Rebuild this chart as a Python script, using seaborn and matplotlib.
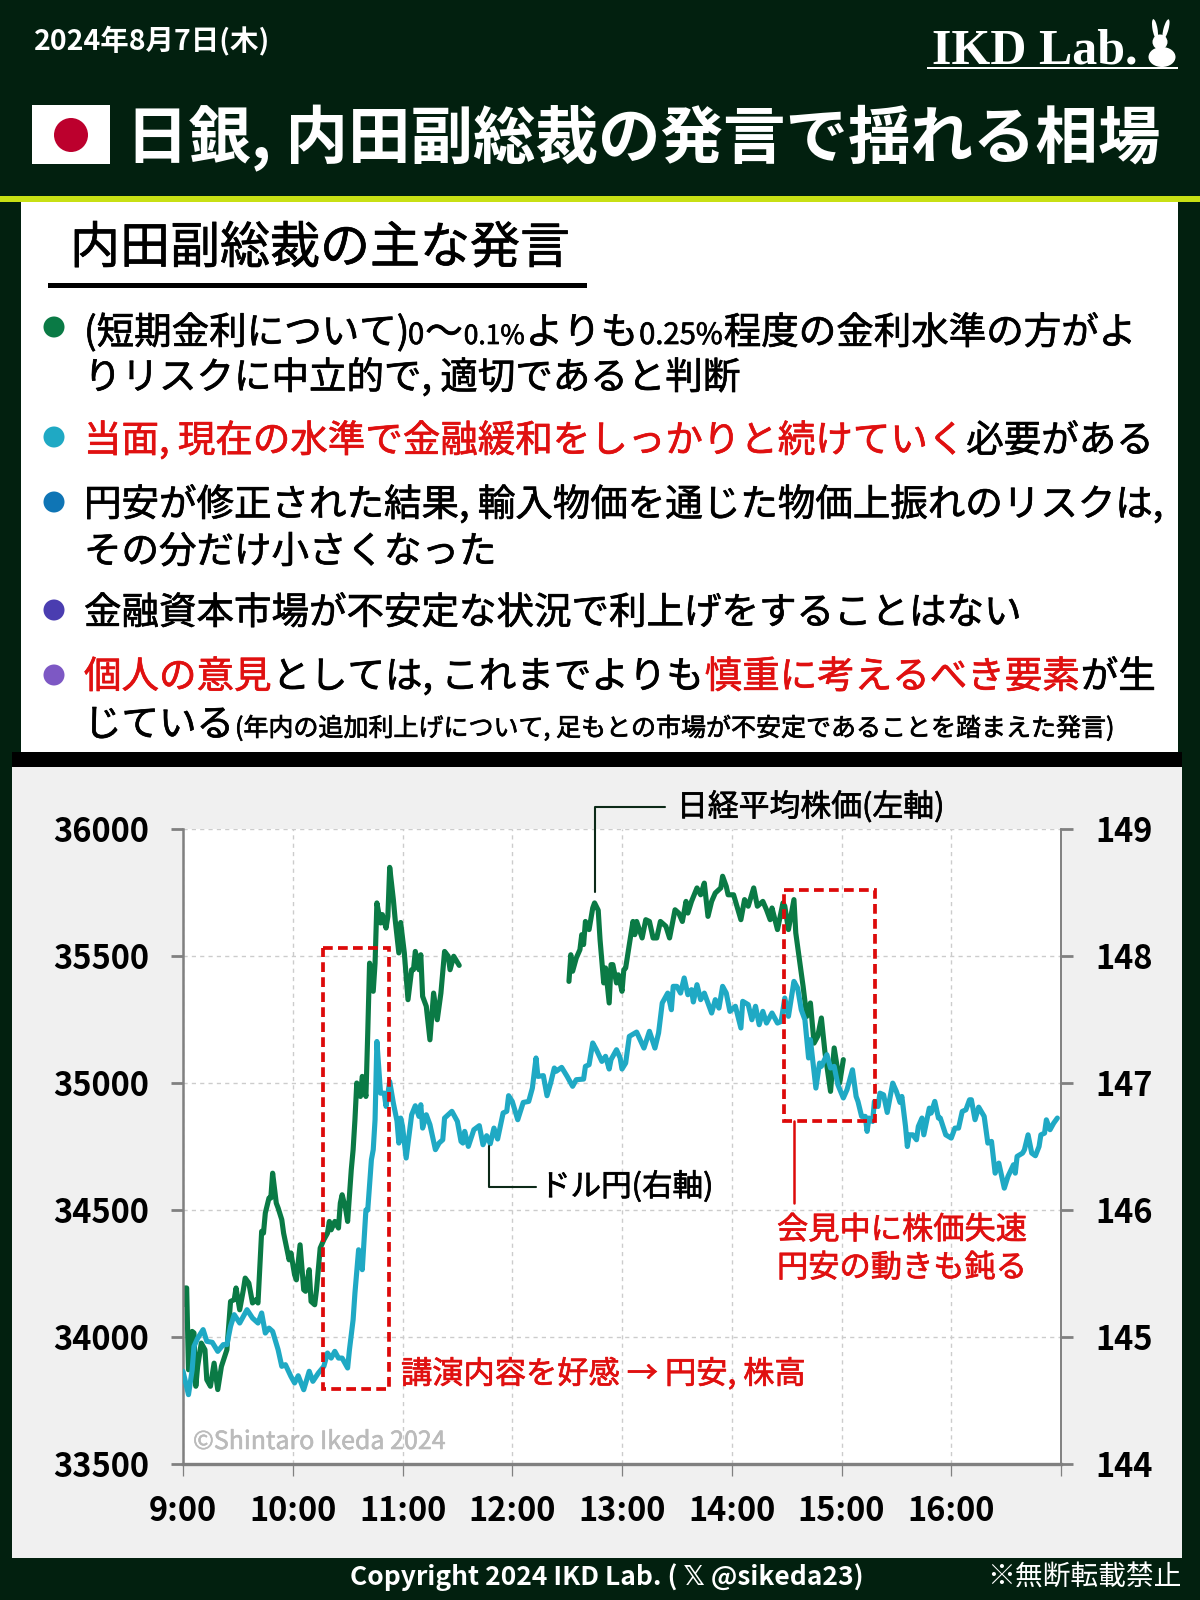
import matplotlib
matplotlib.use("Agg")
import matplotlib.pyplot as plt
import matplotlib.patheffects as pe
from matplotlib.patches import Rectangle, Ellipse, Circle
import seaborn as sns

# DATA (minutes after 9:00)
nikkei_am_min = [0, 1, 2, 3, 5, 6, 7, 8, 10, 12, 13, 15, 17, 19, 21, 24, 26, 28, 29, 31, 33, 34, 36, 38, 40, 41,
                 43, 44, 45, 47, 48, 49, 51, 52, 54, 55, 58, 59, 61, 62, 64, 66, 67, 69, 70, 72, 73, 75, 77, 79,
                 80, 81, 83, 85, 86, 87, 89, 90, 92, 93, 94, 95, 97, 98, 100, 101, 102, 104, 105, 106, 108, 109,
                 111, 112, 113, 115, 116, 118, 119, 121, 123, 125, 126, 127, 129, 130, 131, 133, 135, 137, 139,
                 141, 143, 145, 146, 148, 151]
nikkei_am = [34127, 34193, 34193, 33871, 34022, 34016, 33806, 33884, 33976, 33950, 33832, 33806, 33897, 33793,
             33884, 33950, 34140, 34147, 34193, 34107, 34186, 34232, 34212, 34134, 34147, 34134, 34416, 34409,
             34488, 34547, 34547, 34645, 34527, 34508, 34462, 34409, 34304, 34331, 34245, 34225, 34363, 34186,
             34180, 34265, 34140, 34127, 34186, 34350, 34383, 34409, 34455, 34422, 34455, 34429, 34527, 34560,
             34501, 34455, 34659, 34737, 34855, 35000, 34947, 35026, 34947, 35197, 35472, 35361, 35472, 35709,
             35630, 35663, 35610, 35656, 35849, 35722, 35643, 35512, 35632, 35512, 35328, 35446, 35446, 35518,
             35446, 35505, 35341, 35302, 35170, 35354, 35249, 35354, 35518, 35499, 35446, 35499, 35463]
nikkei_pm_min = [211, 212, 213, 215, 217, 218, 219, 220, 222, 224, 225, 227, 228, 230, 231, 233, 234, 235, 237,
                 238, 240, 241, 242, 244, 246, 247, 248, 251, 253, 255, 257, 259, 261, 264, 266, 269, 271, 273,
                 275, 276, 278, 281, 283, 285, 287, 289, 291, 294, 295, 297, 298, 301, 305, 307, 309, 312, 314,
                 317, 319, 321, 322, 325, 328, 329, 331, 334, 335, 338, 339, 341, 343, 345, 347, 349, 351, 354,
                 356, 359, 361]
nikkei_pm = [35400, 35505, 35440, 35492, 35525, 35584, 35545, 35636, 35604, 35689, 35709, 35680, 35564, 35394,
             35453, 35315, 35466, 35466, 35394, 35426, 35361, 35446, 35453, 35545, 35636, 35584, 35636, 35571,
             35643, 35636, 35571, 35571, 35636, 35617, 35571, 35682, 35669, 35636, 35715, 35669, 35715, 35768,
             35741, 35787, 35656, 35715, 35748, 35768, 35814, 35774, 35741, 35741, 35643, 35722, 35696, 35768,
             35696, 35715, 35682, 35643, 35689, 35604, 35709, 35696, 35604, 35722, 35591, 35433, 35381, 35262,
             35315, 35157, 35184, 35256, 35118, 34967, 35138, 35000, 35092]
usdjpy_min = [0, 3, 5, 6, 8, 11, 13, 16, 19, 22, 24, 26, 28, 31, 33, 35, 38, 41, 43, 45, 47, 49, 52, 54, 56, 59,
              61, 63, 66, 69, 71, 74, 77, 79, 81, 83, 85, 87, 90, 91, 93, 94, 96, 98, 100, 101, 103, 104, 105,
              106, 108, 110, 111, 113, 115, 117, 118, 119, 120, 122, 125, 127, 129, 130, 131, 133, 135, 138,
              140, 142, 143, 147, 150, 152, 153, 154, 156, 159, 162, 164, 166, 168, 170, 172, 175, 177, 178,
              180, 183, 186, 189, 191, 193, 194, 197, 199, 201, 203, 204, 207, 210, 213, 215, 219, 220, 222,
              224, 226, 229, 231, 233, 234, 237, 239, 240, 242, 244, 248, 252, 255, 258, 260, 262, 265, 267,
              268, 270, 272, 274, 276, 278, 279, 281, 283, 285, 289, 291, 293, 295, 297, 299, 302, 305, 306,
              309, 311, 313, 315, 317, 319, 322, 325, 327, 329, 331, 334, 336, 338, 340, 342, 343, 346, 348,
              349, 352, 354, 356, 358, 361, 363, 366, 368, 369, 371, 373, 374, 375, 377, 378, 380, 381, 383,
              385, 388, 390, 392, 393, 395, 396, 397, 399, 401, 402, 404, 405, 408, 409, 411, 413, 414, 417,
              420, 422, 424, 426, 428, 430, 431, 433, 435, 438, 440, 442, 444, 446, 449, 451, 454, 455, 456,
              459, 460, 462, 464, 466, 468, 469, 471, 472, 474, 476, 478]
usdjpy = [144.73, 144.546, 144.74, 144.926, 144.99, 145.058, 144.966, 144.958, 144.887, 144.94, 144.94, 145.084,
          145.176, 145.11, 145.163, 145.215, 145.149, 145.11, 145.189, 145.031, 145.07, 145.044, 144.9, 144.769,
          144.782, 144.69, 144.638, 144.695, 144.585, 144.73, 144.651, 144.716, 144.769, 144.874, 144.834,
          144.887, 144.834, 144.834, 144.756, 144.9, 145.136, 145.346, 145.687, 145.53, 146.0, 146.0, 146.396,
          146.475, 146.711, 147.327, 146.92, 146.92, 146.816, 147.012, 146.842, 146.7, 146.527, 146.724, 146.66,
          146.409, 146.75, 146.821, 146.737, 146.829, 146.645, 146.75, 146.672, 146.475, 146.527, 146.553,
          146.724, 146.777, 146.698, 146.54, 146.527, 146.619, 146.501, 146.632, 146.664, 146.514, 146.585,
          146.522, 146.645, 146.559, 146.764, 146.777, 146.9, 146.855, 146.711, 146.847, 146.855, 146.96,
          147.197, 147.052, 147.058, 146.9, 147.0, 147.118, 147.092, 147.123, 147.052, 146.974, 147.026, 147.031,
          147.131, 147.144, 147.315, 147.262, 147.17, 147.21, 147.11, 147.184, 147.262, 147.197, 147.11, 147.157,
          147.367, 147.401, 147.275, 147.407, 147.275, 147.394, 147.63, 147.708, 147.577, 147.761, 147.761,
          147.708, 147.827, 147.695, 147.735, 147.638, 147.774, 147.656, 147.708, 147.551, 147.656, 147.59,
          147.761, 147.708, 147.564, 147.604, 147.433, 147.643, 147.617, 147.498, 147.604, 147.459, 147.564,
          147.472, 147.551, 147.472, 147.485, 147.669, 147.525, 147.8, 147.748, 147.577, 147.498, 147.197,
          147.341, 146.96, 147.157, 147.131, 147.223, 147.118, 147.131, 146.987, 146.882, 146.947, 147.104,
          146.894, 146.855, 146.737, 146.737, 146.619, 146.724, 146.697, 146.855, 146.815, 146.92, 146.907,
          146.768, 146.999, 146.934, 146.847, 146.894, 146.658, 146.5, 146.592, 146.592, 146.553, 146.658,
          146.724, 146.592, 146.802, 146.763, 146.855, 146.724, 146.724, 146.592, 146.566, 146.645, 146.645,
          146.776, 146.789, 146.868, 146.868, 146.711, 146.81, 146.737, 146.527, 146.54, 146.29, 146.369,
          146.172, 146.264, 146.356, 146.29, 146.422, 146.448, 146.474, 146.592, 146.448, 146.427, 146.5,
          146.592, 146.605, 146.71, 146.632, 146.684, 146.724]

x_ticks = [0, 60, 120, 180, 240, 300, 360, 420, 480]
x_labels = ["9:00", "10:00", "11:00", "12:00", "13:00", "14:00", "15:00", "16:00", ""]
left_ticks = [33500, 34000, 34500, 35000, 35500, 36000]
right_ticks = [144, 145, 146, 147, 148, 149]

GREEN = "#0a7a45"
TEAL = "#1fa9c4"
RED = "#e01010"
DARK = "#02200f"
GRAY = "#808080"
NUM_FONT = ["Noto Sans CJK JP", "DejaVu Sans"]
NUM_SIZE = 23.5
LINE_W = 3.7

sns.set_theme(style="white")
plt.rcParams["font.family"] = ["Noto Sans CJK JP", "DejaVu Sans"]

fig = plt.figure(figsize=(12, 16), dpi=100, facecolor=DARK)


def thick(color, w=0.5):
    # the reference text is a little heavier than the regular face
    return [pe.withStroke(linewidth=w, foreground=color)]


# background layer in pixel units
bg = fig.add_axes([0, 0, 1, 1], zorder=0)
bg.set_xlim(0, 1200)
bg.set_ylim(1600, 0)
bg.axis("off")

bg.add_patch(Rectangle((0, 196), 1200, 6, color="#c8e014", lw=0))
bg.add_patch(Rectangle((21, 202), 1157, 550, color="white", lw=0))
bg.add_patch(Rectangle((12, 752), 1170, 15, color="black", lw=0))
bg.add_patch(Rectangle((12, 767), 1170, 791, color="#f0f0f0", lw=0))

# header
bg.text(34, 40, "2024年8月7日(木)", color="white", fontsize=20.5, va="center", weight="bold")
bg.text(932, 51, "IKD Lab.", color="white", fontsize=36, va="center", weight="bold", family="Liberation Serif")
bg.add_patch(Rectangle((927, 67), 251, 2, color="white", lw=0))
bg.add_patch(Ellipse((1162, 57), 27, 20, color="white", lw=0))
bg.add_patch(Ellipse((1160, 42), 15, 15, color="white", lw=0))
bg.add_patch(Ellipse((1155, 29), 5, 20, angle=-10, color="white", lw=0))
bg.add_patch(Ellipse((1166, 29), 5, 20, angle=15, color="white", lw=0))

bg.add_patch(Rectangle((32, 105), 78, 59, color="white", lw=0))
bg.add_patch(Circle((71, 135), 17, color="#bc002d", lw=0))
bg.text(126, 138, "日銀, 内田副総裁の発言で揺れる相場", color="white", fontsize=45, va="center", weight="bold")

# statement panel
bg.text(70, 249, "内田副総裁の主な発言", color="black", fontsize=36, va="center", path_effects=thick("black"))
bg.add_patch(Rectangle((48, 283), 539, 5, color="black", lw=0))

bullet_y = [327, 437, 502, 610, 675]
bullet_colors = [GREEN, TEAL, "#0f75b5", "#4a3db0", "#7d58c4"]
for by, bc in zip(bullet_y, bullet_colors):
    bg.add_patch(Circle((54, by), 10.5, color=bc, lw=0))

renderer = fig.canvas.get_renderer()


def put_runs(x, y, runs):
    # lay out text pieces of one line side by side, y is the baseline
    for text, color, size in runs:
        t = bg.text(x, y, text, color=color, fontsize=size, va="baseline", ha="left", path_effects=thick(color))
        x += t.get_window_extent(renderer).width + 1


BODY = 27
SMALL_NUM = 21
put_runs(84, 344, [("(短期金利について)", "black", BODY)])
put_runs(408, 344, [("0", "black", SMALL_NUM), ("〜", "black", BODY), ("0.1%", "black", 19), ("よりも", "black", BODY),
                    ("0.25%", "black", SMALL_NUM), ("程度の金利水準の方がよ", "black", BODY)])
put_runs(84, 389, [("りリスクに中立的で, 適切であると判断", "black", BODY)])
put_runs(84, 452, [("当面, 現在の水準で金融緩和をしっかりと続けていく", RED, BODY), ("必要がある", "black", BODY)])
put_runs(84, 516, [("円安が修正された結果, 輸入物価を通じた物価上振れのリスクは,", "black", BODY)])
put_runs(84, 563, [("その分だけ小さくなった", "black", BODY)])
put_runs(84, 624, [("金融資本市場が不安定な状況で利上げをすることはない", "black", BODY)])
put_runs(84, 688, [("個人の意見", RED, BODY), ("としては, これまでよりも", "black", BODY),
                   ("慎重に考えるべき要素", RED, BODY), ("が生", "black", BODY)])
put_runs(84, 736, [("じている", "black", BODY),
                   ("(年内の追加利上げについて, 足もとの市場が不安定であることを踏まえた発言)", "black", 18)])

# chart
ax = fig.add_axes([183 / 1200, 1 - 1464 / 1600, 878 / 1200, 635 / 1600], zorder=2)
ax.set_facecolor("white")
sns.lineplot(x=nikkei_am_min, y=nikkei_am, color=GREEN, estimator=None, errorbar=None, ax=ax)
sns.lineplot(x=nikkei_pm_min, y=nikkei_pm, color=GREEN, estimator=None, errorbar=None, ax=ax)
for line in ax.lines:
    line.set_linewidth(LINE_W)
ax.set_xlim(0, 480)
ax.set_ylim(33500, 36000)
ax.set_xticks(x_ticks)
ax.set_xticklabels(x_labels, family=NUM_FONT, fontsize=NUM_SIZE, color="black", weight="bold")
ax.set_yticks(left_ticks)
ax.set_yticklabels([str(v) for v in left_ticks], family=NUM_FONT, fontsize=NUM_SIZE, color="black", weight="bold")
ax.grid(True, color="#cccccc", ls=(0, (3, 3)), lw=1)
ax.set_axisbelow(True)
ax.tick_params(axis="x", length=8.6, width=0.9, color=GRAY, pad=14)
ax.tick_params(axis="y", length=8.6, width=2, color=GRAY, pad=16)
ax.tick_params(left=True, bottom=True)
ax.spines["top"].set_visible(False)
ax.spines["left"].set(color=GRAY, lw=1.8)
ax.spines["bottom"].set(color=GRAY, lw=2.4)
ax.spines["right"].set(color=GRAY, lw=1.2)

ax2 = ax.twinx()
ax2.set_zorder(3)
ax2.patch.set_visible(False)
sns.lineplot(x=usdjpy_min, y=usdjpy, color=TEAL, estimator=None, errorbar=None, ax=ax2)
for line in ax2.lines:
    line.set_linewidth(LINE_W)
ax2.set_xlim(0, 480)
ax2.set_ylim(144, 149)
ax2.set_ylabel("")
ax2.set_yticks(right_ticks)
ax2.set_yticklabels([str(v) for v in right_ticks], family=NUM_FONT, fontsize=NUM_SIZE, color="black", weight="bold")
ax2.grid(False)
ax2.tick_params(axis="y", right=True, length=8.6, width=2, color=GRAY, pad=16)
ax2.spines["top"].set_visible(False)
ax2.spines["left"].set_visible(False)
ax2.spines["bottom"].set_visible(False)
ax2.spines["right"].set(color=GRAY, lw=1.2)

# annotation layer in pixel units
top = fig.add_axes([0, 0, 1, 1], zorder=5)
top.set_xlim(0, 1200)
top.set_ylim(1600, 0)
top.axis("off")
top.patch.set_visible(False)

dash = (0, (2.6, 1.4))
top.add_patch(Rectangle((323, 948), 66, 441, fill=False, ec="#dd0a0a", lw=2.7, ls=dash))
top.add_patch(Rectangle((784, 890), 91, 231, fill=False, ec="#dd0a0a", lw=2.7, ls=dash))

top.plot([595, 595, 665], [892, 807, 807], color="#0c2a18", lw=1.5)
top.plot([489, 489, 536], [1146, 1187, 1187], color="#0c2a18", lw=1.5)
top.plot([794, 794], [1121, 1203], color="#dd0a0a", lw=1.8)

top.text(677, 807, "日経平均株価(左軸)", color="black", fontsize=22.2, va="center", path_effects=thick("black"))
top.text(540, 1187, "ドル円(右軸)", color="black", fontsize=22, va="center", path_effects=thick("black"))
top.text(401, 1374, "講演内容を好感 → 円安, 株高", color=RED, fontsize=22.5, va="center", path_effects=thick(RED))
top.text(777, 1230, "会見中に株価失速", color=RED, fontsize=22.5, va="center", path_effects=thick(RED))
top.text(777, 1268, "円安の動きも鈍る", color=RED, fontsize=22.5, va="center", path_effects=thick(RED))
top.text(193, 1442, "©Shintaro Ikeda 2024", color="#bbbbbb", fontsize=18, va="center", family=NUM_FONT,
         path_effects=thick("#bbbbbb", 0.4))

# footer
bg.text(350, 1577, "Copyright 2024 IKD Lab. ( 𝕏 @sikeda23)", color="white", fontsize=19, va="center",
        family=NUM_FONT, weight="bold")
bg.text(987, 1577, "※無断転載禁止", color="white", fontsize=20, va="center")

fig.savefig("out.png", dpi=100, facecolor=DARK)
